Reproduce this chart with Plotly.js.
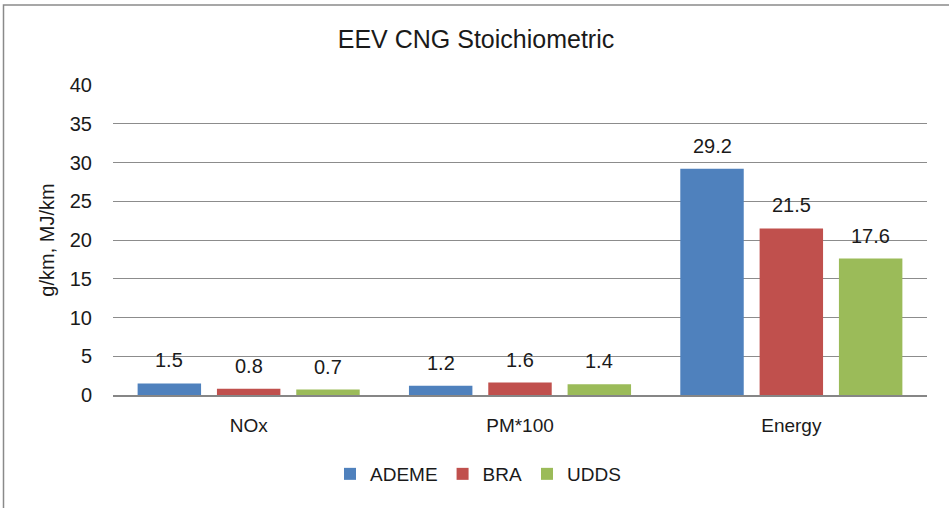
<!DOCTYPE html>
<html>
<head>
<meta charset="utf-8">
<script src="https://cdn.plot.ly/plotly-3.0.1.min.js"></script>
<style>
html,body{margin:0;padding:0;background:#fff;}
#chart{width:949px;height:508px;}
</style>
</head>
<body>
<div id="chart"></div>
<script>
// ---- data ----
const categories = ["NOx", "PM*100", "Energy"];
const seriesNames = ["ADEME", "BRA", "UDDS"];
const ademe = [1.5, 1.2, 29.2];
const bra = [0.8, 1.6, 21.5];
const udds = [0.7, 1.4, 17.6];
const yTicks = [0, 5, 10, 15, 20, 25, 30, 35, 40];
const chartTitle = "EEV CNG Stoichiometric";
const yTitle = "g/km, MJ/km";

const colors = ["#4F81BD", "#C0504D", "#9BBB59"];
const values = [ademe, bra, udds];
const FONT = "Liberation Sans, Arial, sans-serif";
const TXT = "#1a1a1a";

const W = 949, H = 508;
const mL = 113, mR = 22, mT = 85, mB = 113;
const plotW = W - mL - mR, plotH = H - mT - mB;

const traces = seriesNames.map((n, i) => ({
  type: "bar",
  name: n,
  x: categories,
  y: values[i],
  marker: {color: colors[i]},
  hoverinfo: "none"
}));

// data labels as annotations anchored to each bar value
const catW = plotW / categories.length;
const bargap = 0.123, bargroupgap = 0.2;
const slot = catW * (1 - bargap) / seriesNames.length;
const annotations = [];
values.forEach((arr, i) => {
  arr.forEach((v, j) => {
    annotations.push({
      x: categories[j], y: v, xref: "x", yref: "y",
      text: v.toFixed(1), showarrow: false,
      xshift: (i - 1) * slot, yanchor: "bottom", yshift: 10,
      font: {family: FONT, size: 20, color: TXT}
    });
  });
});

const px2x = p => (p - mL) / plotW;
const px2y = p => (mT + plotH - p) / plotH;

const layout = {
  width: W, height: H,
  margin: {l: mL, r: mR, t: mT, b: mB, pad: 0},
  paper_bgcolor: "#fff", plot_bgcolor: "#fff",
  font: {family: FONT, color: TXT, size: 19},
  title: {
    text: chartTitle, font: {family: FONT, size: 25, color: TXT},
    x: 476 / W, xref: "container", xanchor: "center",
    y: 1 - 39 / H, yref: "container", yanchor: "middle"
  },
  barmode: "group", bargap: bargap, bargroupgap: bargroupgap,
  showlegend: true,
  legend: {
    orientation: "h", x: px2x(478), xanchor: "center",
    y: px2y(474), yanchor: "middle",
    font: {family: FONT, size: 19, color: TXT},
    itemclick: false, itemdoubleclick: false
  },
  xaxis: {
    type: "category", showgrid: false, showline: true,
    linecolor: "#868686", linewidth: 2, ticks: "",
    ticklabelstandoff: 12,
    tickfont: {family: FONT, size: 19, color: TXT},
    fixedrange: true
  },
  yaxis: {
    range: [0, 40], tickvals: yTicks, ticktext: yTicks.map(String),
    showgrid: true, gridcolor: "#8c8c8c", gridwidth: 1,
    zeroline: false, showline: false, ticks: "",
    ticklabelstandoff: 20,
    tickfont: {family: FONT, size: 20, color: TXT},
    title: {text: yTitle, font: {family: FONT, size: 20, color: TXT}, standoff: 9},
    fixedrange: true
  },
  annotations: annotations,
  shapes: [{
    type: "rect", xref: "paper", yref: "paper",
    x0: px2x(3.5), x1: px2x(960), y0: px2y(520), y1: px2y(5),
    line: {color: "#8a8a8a", width: 1.5}, fillcolor: "rgba(0,0,0,0)", layer: "below"
  }]
};

Plotly.newPlot("chart", traces, layout, {displayModeBar: false, staticPlot: true});
</script>
</body>
</html>
